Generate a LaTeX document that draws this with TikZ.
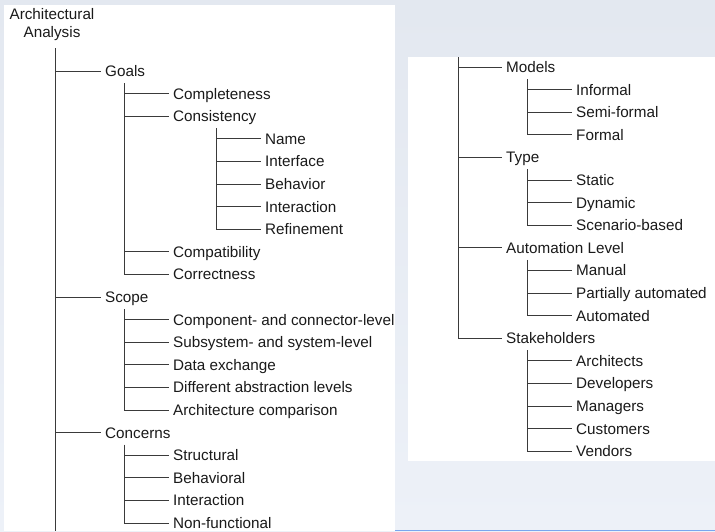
\documentclass[tikz,border=0pt]{standalone}
\usepackage{fontspec}
\setmainfont{Liberation Sans}
\definecolor{bgtop}{HTML}{E3E8F0}
\definecolor{bgbot}{HTML}{EDF1F8}
\definecolor{edge}{HTML}{7AA6EE}
\definecolor{txt}{HTML}{1A1A1A}
\definecolor{ln}{HTML}{3A3A3A}
\tikzset{
  item/.style={anchor=west, inner xsep=4pt, inner ysep=0pt, text height=11pt,
    text depth=0pt, font=\fontsize{15.25}{18}\selectfont, text=txt},
  link/.style={draw=ln, line width=0.9pt},
  panel/.style={fill=white, draw=none}
}
\begin{document}
\begin{tikzpicture}[x=1pt,y=-1pt]
% backdrop and the two white sheets
\shade[top color=bgtop, bottom color=bgbot] (0,0) rectangle (715,531);
\useasboundingbox (0,0) rectangle (715,531);
\fill[panel] (4,5) rectangle (395,531);
\fill[panel] (408,57) rectangle (715,461);
\draw[edge, line width=1pt] (395,530.5) -- (715,530.5);

% ---------- left sheet ----------
\node[font=\fontsize{15.25}{18}\selectfont, text=txt, align=center, inner sep=0pt] (root) at (52,25) {Architectural\\Analysis};
\coordinate (rootTop) at (55,48);
\coordinate (rootEnd) at (55,531);

\node[item] (goals) at (101,71) {Goals};
\node[item] (compl) at (169,93.6) {Completeness};
\node[item] (consi) at (169,116.2) {Consistency};
\node[item] (name)  at (261,138.8) {Name};
\node[item] (iface) at (261,161.4) {Interface};
\node[item] (behav) at (261,184) {Behavior};
\node[item] (inter) at (261,206.6) {Interaction};
\node[item] (refin) at (261,229.2) {Refinement};
\node[item] (compa) at (169,251.8) {Compatibility};
\node[item] (corre) at (169,274.4) {Correctness};
\node[item] (scope) at (101,297) {Scope};
\node[item] (compo) at (169,319.6) {Component- and connector-level};
\node[item] (subsy) at (169,342.2) {Subsystem- and system-level};
\node[item] (datae) at (169,364.8) {Data exchange};
\node[item] (diffa) at (169,387.4) {Different abstraction levels};
\node[item] (archc) at (169,410) {Architecture comparison};
\node[item] (conce) at (101,432.6) {Concerns};
\node[item] (struc) at (169,455.2) {Structural};
\node[item] (behvl) at (169,477.8) {Behavioral};
\node[item] (intcn) at (169,500.4) {Interaction};
\node[item] (nonfn) at (169,523) {Non-functional};

% spines
\draw[link] (rootTop) -- (rootEnd);
\foreach \n in {goals,scope,conce}
  \draw[link] (rootTop |- \n.west) -- (\n.west);

\coordinate (goalsTop) at (124,83);
\draw[link] (goalsTop) |- (corre.west);
\foreach \n in {compl,consi,compa}
  \draw[link] (goalsTop |- \n.west) -- (\n.west);

\coordinate (consiTop) at (216,128.2);
\draw[link] (consiTop) |- (refin.west);
\foreach \n in {name,iface,behav,inter}
  \draw[link] (consiTop |- \n.west) -- (\n.west);

\coordinate (scopeTop) at (124,309);
\draw[link] (scopeTop) |- (archc.west);
\foreach \n in {compo,subsy,datae,diffa}
  \draw[link] (scopeTop |- \n.west) -- (\n.west);

\coordinate (conceTop) at (124,444.6);
\draw[link] (conceTop) |- (nonfn.west);
\foreach \n in {struc,behvl,intcn}
  \draw[link] (conceTop |- \n.west) -- (\n.west);

% ---------- right sheet ----------
\coordinate (rightTop) at (458,57);
\node[item] (model) at (502,67) {Models};
\node[item] (infor) at (572,89.6) {Informal};
\node[item] (semif) at (572,112.2) {Semi-formal};
\node[item] (forma) at (572,134.8) {Formal};
\node[item] (type)  at (502,157.4) {Type};
\node[item] (stati) at (572,180) {Static};
\node[item] (dynam) at (572,202.6) {Dynamic};
\node[item] (scena) at (572,225.2) {Scenario-based};
\node[item] (autol) at (502,247.8) {Automation Level};
\node[item] (manua) at (572,270.4) {Manual};
\node[item] (parti) at (572,293) {Partially automated};
\node[item] (autom) at (572,315.6) {Automated};
\node[item] (stake) at (502,338.2) {Stakeholders};
\node[item] (archi) at (572,360.8) {Architects};
\node[item] (devel) at (572,383.4) {Developers};
\node[item] (manag) at (572,406) {Managers};
\node[item] (custo) at (572,428.6) {Customers};
\node[item] (vendo) at (572,451.2) {Vendors};

\draw[link] (rightTop) |- (stake.west);
\foreach \n in {model,type,autol}
  \draw[link] (rightTop |- \n.west) -- (\n.west);

\coordinate (modelTop) at (527,79);
\draw[link] (modelTop) |- (forma.west);
\foreach \n in {infor,semif}
  \draw[link] (modelTop |- \n.west) -- (\n.west);

\coordinate (typeTop) at (527,169.4);
\draw[link] (typeTop) |- (scena.west);
\foreach \n in {stati,dynam}
  \draw[link] (typeTop |- \n.west) -- (\n.west);

\coordinate (autolTop) at (527,259.8);
\draw[link] (autolTop) |- (autom.west);
\foreach \n in {manua,parti}
  \draw[link] (autolTop |- \n.west) -- (\n.west);

\coordinate (stakeTop) at (527,350.2);
\draw[link] (stakeTop) |- (vendo.west);
\foreach \n in {archi,devel,manag,custo}
  \draw[link] (stakeTop |- \n.west) -- (\n.west);
\end{tikzpicture}
\end{document}
